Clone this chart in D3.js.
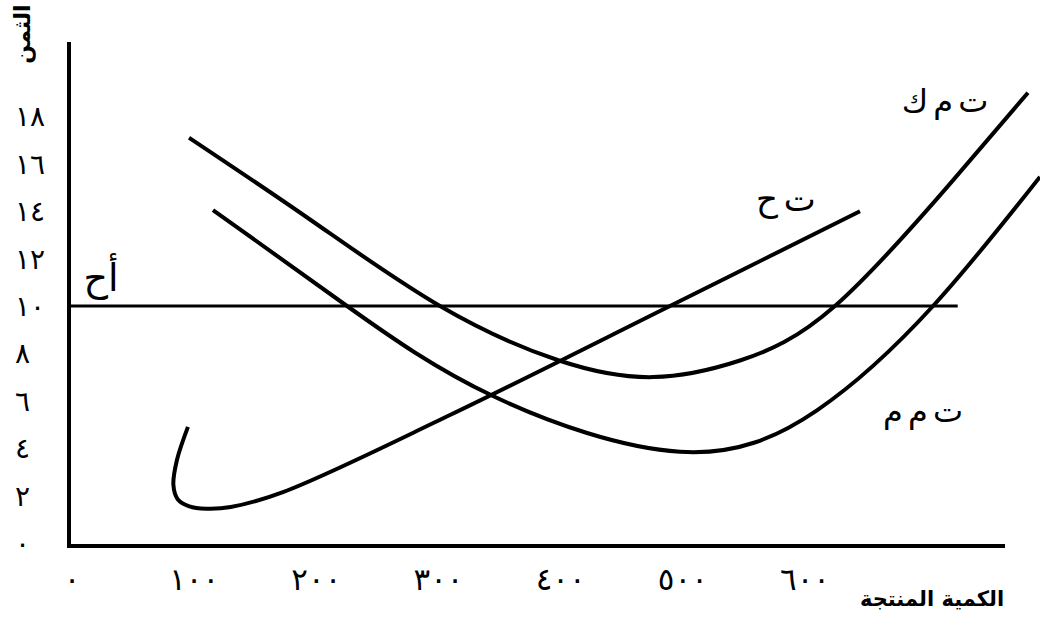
<!DOCTYPE html>
<html>
    <head>
        <title>منحنيات التكاليف</title>
        <meta charset="UTF-8">
        <style>
            body { margin: 0; background: #fff; }
            svg text { font-family: "DejaVu Sans", sans-serif; fill: #000; }
        </style>
        <script src="https://d3js.org/d3.v7.min.js"></script>
    </head>
    <body>
        <svg id="chart" width="1040" height="634"></svg>
        <script>
            // quantities on the x axis, prices on the y axis
            var xTicks = [0, 100, 200, 300, 400, 500, 600];
            var yTicks = [0, 2, 4, 6, 8, 10, 12, 14, 16, 18];

            // ت م ك (upper U curve)
            var atcQty   = [95.8, 194.8, 301.2, 398.6, 475.6, 546.8, 624.5, 721.1, 782.5];
            var atcPrice = [17.1, 13.65, 10.0, 7.7, 7.0, 7.7, 10.0, 15.3, 19.0];

            // ت م م (lower U curve)
            var avcQty   = [115.4, 225.1, 344.6, 497.7, 609.8, 704.8, 792.3];
            var avcPrice = [14.05, 10.0, 6.2, 3.85, 5.6, 10.0, 15.45];

            // ت ح (marginal cost, with the hook at the start)
            var mcQty   = [94.9, 85.9, 83.0, 86.5, 96.0, 110.0, 130.0, 172.7, 309.4, 489.5, 645.0];
            var mcPrice = [4.9, 3.5, 2.45, 1.85, 1.55, 1.45, 1.52, 2.15, 5.4, 10.0, 14.0];

            // أح (price line)
            var arPrice = 10;
            var arQty = [0, 725];

            var svg = d3.select("#chart");

            var x = d3.scaleLinear().domain([0, 600]).range([72, 805]);
            var y = d3.scaleLinear().domain([0, 18]).range([543, 116.4]);

            var digits = "٠١٢٣٤٥٦٧٨٩";
            function arabicNum(n) {
                return String(n).replace(/[0-9]/g, function(d) { return digits[+d]; });
            }

            function pairs(qs, ps) {
                return qs.map(function(q, i) { return [q, ps[i]]; });
            }

            var smooth = d3.line()
                .x(function(d) { return x(d[0]); })
                .y(function(d) { return y(d[1]); })
                .curve(d3.curveNatural);

            var hook = d3.line()
                .x(function(d) { return x(d[0]); })
                .y(function(d) { return y(d[1]); })
                .curve(d3.curveCatmullRom.alpha(0.5));

            // axes frame
            var axisX = x(0) - 3, axisY = y(0) + 3;
            svg.append("line")
                .attr("x1", axisX).attr("y1", 42)
                .attr("x2", axisX).attr("y2", axisY + 2)
                .attr("stroke", "#000").attr("stroke-width", 4);
            svg.append("line")
                .attr("x1", axisX - 2).attr("y1", axisY)
                .attr("x2", 1005).attr("y2", axisY)
                .attr("stroke", "#000").attr("stroke-width", 4);

            // tick labels
            svg.append("g").selectAll("text")
                .data(xTicks)
                .enter().append("text")
                .attr("x", function(d) { return x(d); })
                .attr("y", 590)
                .attr("text-anchor", "middle")
                .attr("font-size", 31)
                .attr("letter-spacing", 3)
                .text(function(d) { return arabicNum(d); });

            svg.append("g").selectAll("text")
                .data(yTicks)
                .enter().append("text")
                .attr("x", 15)
                .attr("y", function(d) { return y(d) + 10; })
                .attr("text-anchor", "start")
                .attr("font-size", 28)
                .attr("letter-spacing", 1)
                .text(function(d) { return arabicNum(d); });

            // price line
            svg.append("line")
                .attr("x1", axisX).attr("y1", y(arPrice))
                .attr("x2", x(arQty[1])).attr("y2", y(arPrice))
                .attr("stroke", "#000").attr("stroke-width", 3);

            // cost curves
            [pairs(atcQty, atcPrice), pairs(avcQty, avcPrice)].forEach(function(pts) {
                svg.append("path")
                    .attr("d", smooth(pts))
                    .attr("fill", "none")
                    .attr("stroke", "#000")
                    .attr("stroke-width", 4);
            });
            svg.append("path")
                .attr("d", hook(pairs(mcQty, mcPrice)))
                .attr("fill", "none")
                .attr("stroke", "#000")
                .attr("stroke-width", 4);

            // curve labels
            var labels = [
                { t: "أح", x: 101, y: 291, s: 38 },
                { t: "ت ح", x: 786, y: 211, s: 34 },
                { t: "ت م ك", x: 945, y: 112, s: 32 },
                { t: "ت م م", x: 923, y: 422, s: 32 }
            ];
            svg.append("g").selectAll("text")
                .data(labels)
                .enter().append("text")
                .attr("x", function(d) { return d.x; })
                .attr("y", function(d) { return d.y; })
                .attr("direction", "rtl")
                .attr("text-anchor", "middle")
                .attr("font-size", function(d) { return d.s; })
                .attr("word-spacing", -5)
                .text(function(d) { return d.t; });

            // axis titles
            svg.append("text")
                .attr("transform", "translate(30,34) rotate(-90)")
                .attr("direction", "rtl")
                .attr("text-anchor", "middle")
                .attr("font-size", 22)
                .attr("font-weight", "bold")
                .text("الثمن");

            svg.append("text")
                .attr("x", 932)
                .attr("y", 606)
                .attr("direction", "rtl")
                .attr("text-anchor", "middle")
                .attr("font-size", 21)
                .attr("font-weight", "bold")
                .text("الكمية المنتجة");
        </script>
    </body>
</html>
